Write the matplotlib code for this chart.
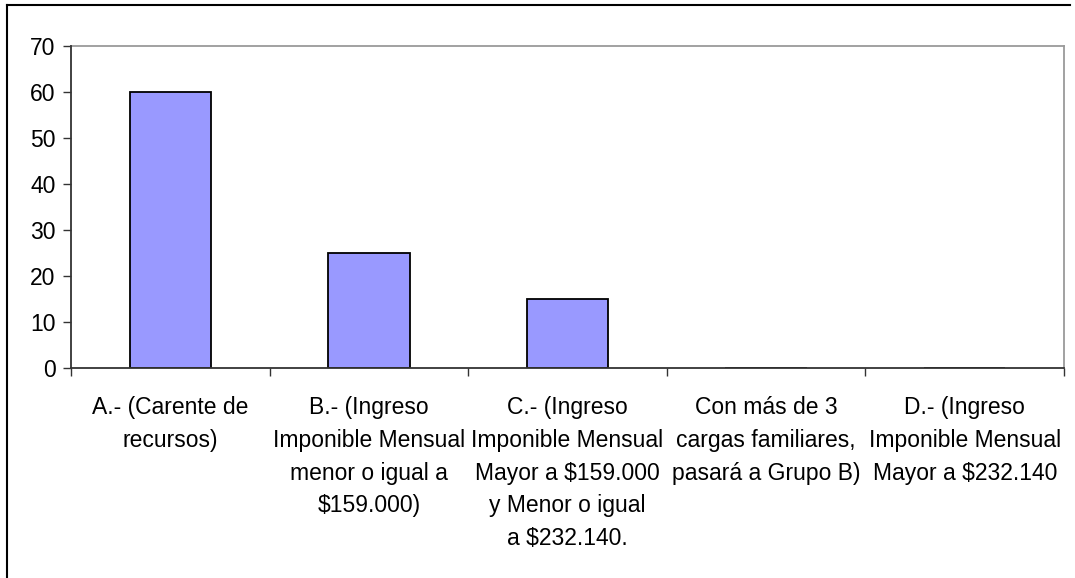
import matplotlib
matplotlib.use("Agg")
import matplotlib.pyplot as plt
import numpy as np
from matplotlib.lines import Line2D

# datos del grafico
categorias = ["A.- (Carente de\nrecursos)",
              "B.- (Ingreso\nImponible Mensual\nmenor o igual a\n$159.000)",
              "C.- (Ingreso\nImponible Mensual\nMayor a $159.000\ny Menor o igual\na $232.140.",
              "Con más de 3\ncargas familiares,\npasará a Grupo B)",
              "D.- (Ingreso\nImponible Mensual\nMayor a $232.140"]
valores = [60, 25, 15, 0, 0]
yticks = [0, 10, 20, 30, 40, 50, 60, 70]

plt.rcParams['font.family'] = ['Liberation Sans', 'DejaVu Sans']

fig = plt.figure(figsize=(10.75, 5.78), dpi=100)
ax = fig.add_axes([0.066, 0.3633, 0.9238, 0.5571])

x = np.arange(len(categorias))
ax.bar(x, valores, width=0.41, color="#9999FF", edgecolor="black", linewidth=1.3, zorder=2)

ax.set_xlim(-0.5, len(categorias) - 0.5)
ax.set_ylim(0, 70)
ax.set_yticks(yticks)
ax.tick_params(axis="y", direction="out", length=6, width=1, color="#333333",
               labelsize=16.5, pad=5)

ax.set_xticks(x)
ax.set_xticklabels(categorias, fontsize=16.5, linespacing=1.55)
ax.tick_params(axis="x", which="major", length=0, pad=20)
ax.set_xticks(np.arange(len(categorias) + 1) - 0.5, minor=True)
ax.tick_params(axis="x", which="minor", direction="out", length=6, width=1, color="#333333")

for s in ["left", "bottom"]:
    ax.spines[s].set_color("#333333")
    ax.spines[s].set_linewidth(1.3)
    ax.spines[s].set_zorder(3)
for s in ["top", "right"]:
    ax.spines[s].set_color("#9a9a9a")
    ax.spines[s].set_linewidth(1.3)

# borde del area del grafico
fig.add_artist(Line2D([7 / 1075, 7 / 1075], [0, 1 - 5 / 578], color="black", lw=1.5,
                      transform=fig.transFigure))
fig.add_artist(Line2D([7 / 1075, 1070 / 1075], [1 - 5 / 578, 1 - 5 / 578], color="black", lw=1.5,
                      transform=fig.transFigure))

fig.savefig("out.png", dpi=100)
